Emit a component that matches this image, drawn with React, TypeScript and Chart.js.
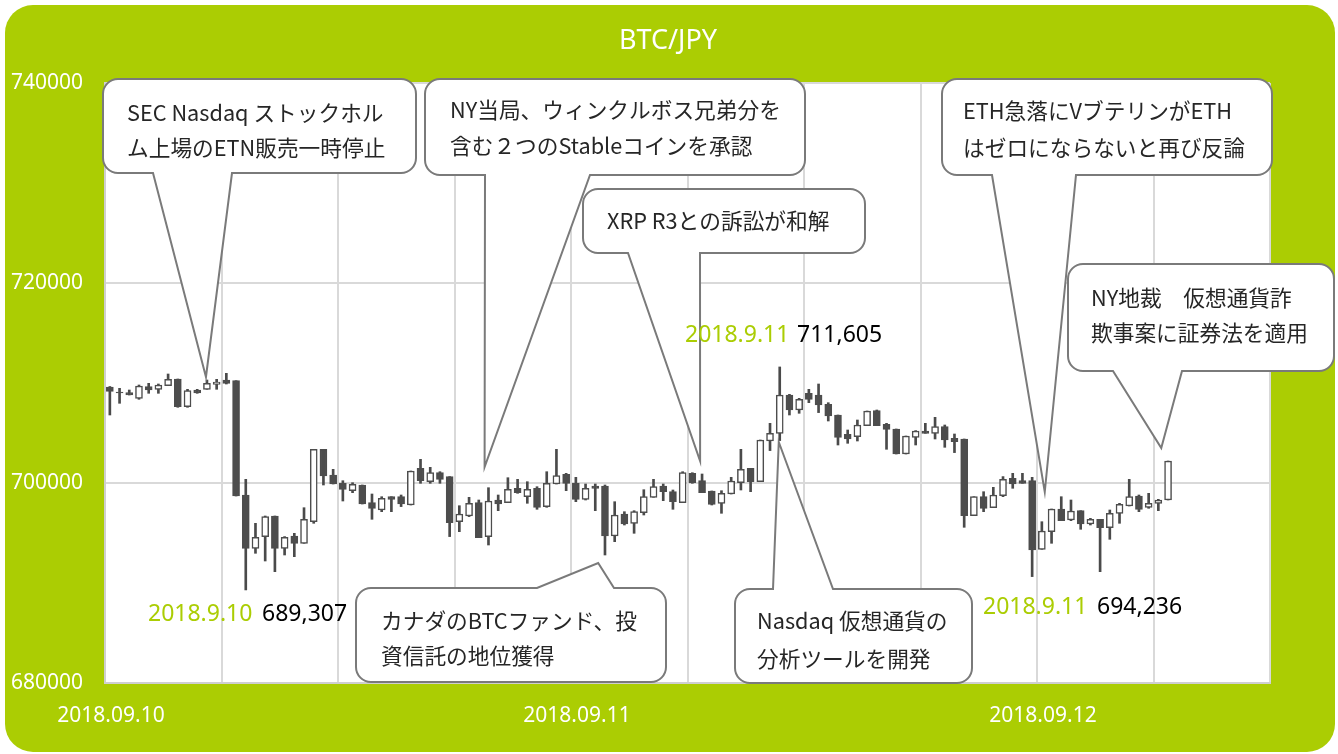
import React, { useEffect, useRef } from 'react';
import { Chart, registerables } from 'chart.js';

Chart.register(...registerables);

// 30-minute candles, 2018.09.10 00:00 onward (slot index = half hours)
const opens = [
  709600, 709100, 709030, 708470, 709630, 709370, 709734, 710400, 707640, 709300,
  709370, 709870, 710300, 710234, 698800, 693470, 694640, 696700, 693470, 694700,
  693970, 696130, 703370, 700800, 699970, 699230, 699800, 698030, 697300, 698630,
  698630, 697800, 701470, 700130, 701030, 700640, 696130, 696700, 698030, 694640,
  698300, 698030, 699470, 698630, 699470, 697640, 699900, 700870, 699970, 698370,
  699700, 699700, 694700, 696900, 695970, 697030, 698570, 699700, 699130, 698030,
  700970, 700230, 699200, 697970, 698900, 700030, 701470, 700130, 704200, 704970,
  708800, 707300, 708970, 708800, 707870, 706800, 704870, 704640, 705740, 707240,
  705870, 705400, 702900, 704570, 705200, 704970, 705640, 704470, 704400, 696740,
  698630, 697540, 698740, 700470, 700230, 700230, 693370, 695130, 697400, 696300,
  697230, 695900, 696370, 695530, 696970, 697700, 698700, 697570, 697970, 698300,
];
const highs = [
  709650, 709470, 709300, 709800, 709970, 709900, 710900, 710400, 709370, 709370,
  710300, 710370, 710970, 710234, 700370, 695970, 696700, 696700, 694640, 694970,
  697530, 703370, 703370, 701370, 700230, 700030, 699800, 698900, 698630, 698630,
  698800, 701200, 702370, 701570, 701130, 700640, 697730, 698570, 698300, 699530,
  698800, 700530, 700370, 700130, 699630, 701130, 703370, 700970, 700570, 699900,
  699900, 699800, 698130, 697130, 697230, 699330, 700370, 699900, 699300, 701130,
  701030, 700900, 699200, 699230, 700570, 703370, 701470, 704300, 705970, 711605,
  708870, 708470, 709370, 709900, 708030, 706800, 705300, 706300, 707200, 707300,
  705970, 705400, 704700, 705240, 705970, 706570, 705800, 704900, 704400, 698630,
  699130, 699570, 700640, 700970, 700970, 700570, 696130, 697400, 698630, 698300,
  697230, 696470, 696370, 697300, 697970, 700370, 698800, 698970, 698370, 702200,
];
const lows = [
  706800, 707970, 708800, 708370, 708970, 708970, 709734, 707570, 707570, 708970,
  709370, 709370, 709900, 698700, 689307, 692970, 692200, 691130, 692800, 692630,
  693970, 695970, 699800, 699900, 698200, 699030, 697900, 696370, 697130, 697130,
  697640, 697800, 699970, 699970, 699970, 694640, 695130, 696640, 694530, 693800,
  697230, 698030, 698970, 697970, 697370, 697570, 699900, 699230, 698130, 698300,
  697230, 692800, 694130, 695800, 694970, 696800, 698570, 698230, 697370, 698030,
  699970, 699030, 697800, 696970, 698900, 699300, 699130, 700130, 703240, 704240,
  706800, 706970, 708030, 707040, 706200, 703800, 703970, 704200, 705740, 705740,
  703370, 702900, 702900, 703800, 704970, 704400, 703570, 703040, 695570, 696740,
  697130, 697540, 698630, 699470, 699970, 690640, 693370, 693970, 696230, 696230,
  695370, 695800, 691130, 694370, 695970, 697700, 697130, 697470, 697230, 698300,
];
const closes = [
  709150, 709000, 708800, 709700, 709300, 709800, 710367, 707640, 709236, 709000,
  709970, 710100, 709970, 698700, 693470, 694570, 696640, 693470, 694570, 693970,
  696370, 703370, 700700, 699900, 699370, 699870, 697900, 697470, 698470, 698370,
  697900, 701200, 700230, 701030, 700370, 696040, 696900, 697970, 694530, 698200,
  697900, 699370, 699030, 699370, 697570, 699970, 700740, 699970, 698370, 699470,
  699470, 694700, 696800, 695900, 697130, 698630, 699630, 699130, 698130, 701030,
  700030, 699030, 697870, 698970, 700200, 701370, 700130, 704300, 704970, 708800,
  707300, 708370, 708370, 707800, 706700, 704570, 704400, 705800, 707200, 705740,
  705370, 702900, 704700, 705200, 704970, 705640, 704300, 704140, 696740, 698630,
  697470, 698800, 700370, 699900, 699970, 693300, 695200, 697400, 696230, 697200,
  695900, 696370, 695530, 696970, 697870, 698630, 697370, 697970, 698300, 702200,
];

const yTicks = [680000, 700000, 720000, 740000];
const dateLabels = ['2018.09.10', '2018.09.11', '2018.09.12'];
const dateSlots = [0, 48, 96];
const chartTitle = 'BTC/JPY';

// price notes: [date text, value text]
const noteDates = ['2018.9.10', '2018.9.11', '2018.9.11'];
const noteValues = ['689,307', '711,605', '694,236'];

const calloutTexts = [
  ['SEC Nasdaq ストックホル', 'ム上場のETN販売一時停止'],
  ['NY当局、ウィンクルボス兄弟分を', '含む２つのStableコインを承認'],
  ['XRP R3との訴訟が和解'],
  ['ETH急落にVブテリンがETH', 'はゼロにならないと再び反論'],
  ['NY地裁　仮想通貨詐', '欺事案に証券法を適用'],
  ['カナダのBTCファンド、投', '資信託の地位獲得'],
  ['Nasdaq 仮想通貨の', '分析ツールを開発'],
];
// tail tips in data units: [slot, price]
const calloutTips = [
  [10.4, 710600],
  [39.1, 701600],
  [61.3, 702200],
  [96.8, 699100],
  [108.8, 703500],
  [50.8, 692000],
  [69.4, 704100],
];

const GREEN = '#abcd03';
const FONT_LATIN = '"Noto Sans", "Noto Sans CJK JP", sans-serif';
const FONT_JP = '"Noto Sans CJK JP", "Noto Sans", sans-serif';

// layout of callout boxes (pixels)
const calloutLayout = [
  { x: 103, y: 79, w: 313, h: 94, side: 'bottom', b1: 153, b2: 232, tx: 127, ly: [113, 148] },
  { x: 425, y: 79, w: 380, h: 96, side: 'bottom', b1: 485, b2: 590, tx: 450, ly: [110, 146] },
  { x: 583, y: 189, w: 282, h: 64, side: 'bottom', b1: 628, b2: 700, tx: 607, ly: [221] },
  { x: 942, y: 79, w: 330, h: 96, side: 'bottom', b1: 992, b2: 1076, tx: 963, ly: [111, 148] },
  { x: 1068, y: 264, w: 266, h: 107, side: 'bottom', b1: 1113, b2: 1182, tx: 1091, ly: [298, 333] },
  { x: 356, y: 588, w: 310, h: 94, side: 'top', b1: 537, b2: 614, tx: 381, ly: [621, 656] },
  { x: 735, y: 589, w: 237, h: 94, side: 'top', b1: 773, b2: 833, tx: 757, ly: [621, 659] },
];
const noteLayout = [
  { x: 148, y: 614, vx: 262 },
  { x: 685, y: 335, vx: 797 },
  { x: 983, y: 607, vx: 1097 },
];

function calloutPath(ctx: CanvasRenderingContext2D, c: any, tipX: number, tipY: number) {
  const r = 15;
  const { x, y, w, h, side, b1, b2 } = c;
  ctx.beginPath();
  ctx.moveTo(x + r, y);
  if (side === 'top') {
    ctx.lineTo(b1, y);
    ctx.lineTo(tipX, tipY);
    ctx.lineTo(b2, y);
  }
  ctx.lineTo(x + w - r, y);
  ctx.arcTo(x + w, y, x + w, y + r, r);
  ctx.lineTo(x + w, y + h - r);
  ctx.arcTo(x + w, y + h, x + w - r, y + h, r);
  if (side === 'bottom') {
    ctx.lineTo(b2, y + h);
    ctx.lineTo(tipX, tipY);
    ctx.lineTo(b1, y + h);
  }
  ctx.lineTo(x + r, y + h);
  ctx.arcTo(x, y + h, x, y + h - r, r);
  ctx.lineTo(x, y + r);
  ctx.arcTo(x, y, x + r, y, r);
  ctx.closePath();
}

const decorPlugin = {
  id: 'decor',
  beforeDraw(chart: any) {
    const ctx = chart.ctx as CanvasRenderingContext2D;
    const { chartArea } = chart;
    ctx.save();
    ctx.fillStyle = '#ffffff';
    ctx.fillRect(0, 0, chart.width, chart.height);
    // green panel
    const px = 5, py = 5, pw = 1330, ph = 747, r = 28;
    ctx.beginPath();
    ctx.moveTo(px + r, py);
    ctx.arcTo(px + pw, py, px + pw, py + ph, r);
    ctx.arcTo(px + pw, py + ph, px, py + ph, r);
    ctx.arcTo(px, py + ph, px, py, r);
    ctx.arcTo(px, py, px + pw, py, r);
    ctx.closePath();
    ctx.fillStyle = GREEN;
    ctx.fill();
    // plot area
    ctx.fillStyle = '#ffffff';
    ctx.fillRect(chartArea.left, chartArea.top, chartArea.right - chartArea.left, chartArea.bottom - chartArea.top);
    // title
    ctx.fillStyle = '#ffffff';
    ctx.font = '27px ' + FONT_LATIN;
    ctx.textAlign = 'center';
    ctx.textBaseline = 'middle';
    ctx.fillText(chartTitle, 668, 41);
    ctx.restore();
  },
  afterDatasetsDraw(chart: any) {
    const ctx = chart.ctx as CanvasRenderingContext2D;
    const xs = chart.scales.x;
    const ys = chart.scales.y;
    ctx.save();
    calloutLayout.forEach((c, i) => {
      const tipX = xs.getPixelForValue(calloutTips[i][0]);
      const tipY = ys.getPixelForValue(calloutTips[i][1]);
      calloutPath(ctx, c, tipX, tipY);
      ctx.fillStyle = '#ffffff';
      ctx.fill();
      ctx.lineWidth = 2;
      ctx.strokeStyle = '#7a7a7a';
      ctx.lineJoin = 'miter';
      ctx.stroke();
      ctx.fillStyle = '#262626';
      ctx.font = '21.7px ' + FONT_JP;
      ctx.textAlign = 'left';
      ctx.textBaseline = 'middle';
      calloutTexts[i].forEach((t, k) => {
        ctx.fillText(t, c.tx, c.ly[k]);
      });
    });
    // price notes
    ctx.font = '23px ' + FONT_LATIN;
    ctx.textAlign = 'left';
    ctx.textBaseline = 'middle';
    noteLayout.forEach((n, i) => {
      ctx.fillStyle = GREEN;
      ctx.fillText(noteDates[i], n.x, n.y);
      ctx.fillStyle = '#000000';
      ctx.fillText(noteValues[i], n.vx, n.y);
    });
    ctx.restore();
  },
};

export default function App() {
  const ref = useRef<HTMLCanvasElement | null>(null);
  useEffect(() => {
    document.body.style.margin = '0';
    const canvas = ref.current;
    if (!canvas) return;
    const slots = opens.map((_, i) => i + 0.5);
    const bodies = slots.map((x, i) => ({ x, y: [opens[i], closes[i]] }));
    const wicks = slots.map((x, i) => ({ x, y: [lows[i], highs[i]] }));
    const bodyFill = opens.map((o, i) => (closes[i] < o ? '#4d4d4d' : '#ffffff'));

    const chart = new Chart(canvas, {
      type: 'bar',
      data: {
        datasets: [
          {
            label: 'body',
            data: bodies as any,
            backgroundColor: bodyFill,
            borderColor: '#4d4d4d',
            borderWidth: 1.5,
            borderSkipped: false,
            barThickness: 7,
            grouped: false,
          } as any,
          {
            label: 'wick',
            data: wicks as any,
            backgroundColor: '#4a4a4a',
            borderWidth: 0,
            barThickness: 2,
            grouped: false,
          } as any,
        ],
      },
      options: {
        animation: false,
        responsive: false,
        events: [],
        layout: { padding: { top: 83, left: 11, right: 68, bottom: 0 } },
        plugins: {
          legend: { display: false },
          title: { display: false },
          tooltip: { enabled: false },
        },
        scales: {
          x: {
            type: 'linear',
            min: 0,
            max: 120,
            offset: false,
            grid: { color: '#d9d9d9', lineWidth: 2, drawTicks: false, offset: false },
            border: { display: true, color: '#cfcfcf', width: 2 },
            afterFit: (s: any) => { s.height = 71; },
            afterBuildTicks: (s: any) => {
              const t = [];
              for (let v = 0; v <= 120; v += 12) t.push({ value: v });
              s.ticks = t;
            },
            ticks: {
              autoSkip: false,
              maxRotation: 0,
              padding: 20,
              labelOffset: 6,
              color: '#ffffff',
              font: { size: 21, family: FONT_LATIN },
              callback: (v: any) => {
                const k = dateSlots.indexOf(Number(v));
                return k >= 0 ? dateLabels[k] : '';
              },
            },
          },
          y: {
            type: 'linear',
            min: yTicks[0],
            max: yTicks[yTicks.length - 1],
            grid: { color: '#d9d9d9', lineWidth: 2, drawTicks: false },
            border: { display: true, color: '#cfcfcf', width: 2 },
            afterFit: (s: any) => { s.width = 94; },
            afterBuildTicks: (s: any) => { s.ticks = yTicks.map((v) => ({ value: v })); },
            ticks: {
              crossAlign: 'far',
              padding: 0,
              color: '#ffffff',
              font: { size: 21, family: FONT_LATIN },
              callback: (v: any) => String(v),
            },
          },
        },
      },
      plugins: [decorPlugin],
    } as any);
    return () => chart.destroy();
  }, []);
  return (
    <div style={{ width: 1338, height: 754 }}>
      <canvas ref={ref} width={1338} height={754} style={{ display: 'block' }} />
    </div>
  );
}
